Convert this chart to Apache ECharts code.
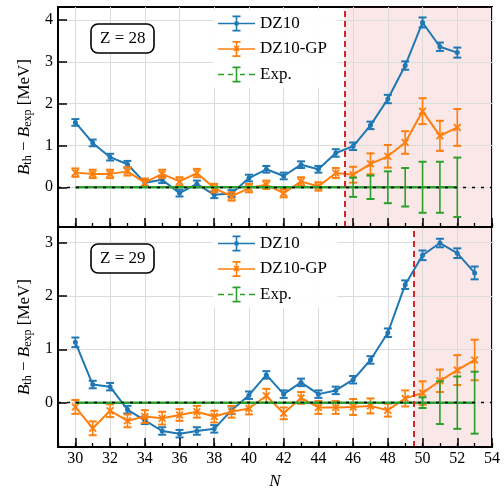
<!DOCTYPE html>
<html>
<head>
<meta charset="utf-8">
<script src="https://cdn.jsdelivr.net/npm/echarts@6/dist/echarts.min.js"></script>
<style>
  html, body { margin: 0; padding: 0; background: #fff; }
  #chart { width: 504px; height: 493px; }
</style>
</head>
<body>
<div id="chart"></div>
<script>
// ---- data: binding-energy residuals B_th - B_exp (MeV) along the Ni (Z=28) and Cu (Z=29) chains ----
const nZ28 = [30,31,32,33,34,35,36,37,38,39,40,41,42,43,44,45,46,47,48,49,50,51,52];
const dz10Z28 = [1.55,1.06,0.72,0.55,0.11,0.18,-0.14,0.08,-0.18,-0.15,0.22,0.43,0.27,0.54,0.43,0.82,0.98,1.48,2.11,2.91,3.94,3.36,3.22];
const dz10ErrZ28 = [0.08,0.08,0.08,0.08,0.08,0.08,0.08,0.08,0.08,0.08,0.08,0.08,0.08,0.08,0.08,0.09,0.09,0.09,0.10,0.10,0.12,0.10,0.12];
const gpZ28 = [0.35,0.32,0.32,0.38,0.11,0.32,0.14,0.34,-0.02,-0.22,-0.02,0.06,-0.14,0.14,0.02,0.34,0.30,0.56,0.74,1.07,1.82,1.23,1.43];
const gpErrZ28 = [0.10,0.10,0.10,0.10,0.10,0.10,0.10,0.10,0.10,0.10,0.10,0.10,0.10,0.10,0.10,0.12,0.19,0.25,0.27,0.27,0.31,0.36,0.44];
const expErrZ28 = [0,0,0,0,0,0,0,0,0,0,0,0,0,0,0,0,0.23,0.28,0.38,0.46,0.61,0.61,0.71];

const nZ29 = [30,31,32,33,34,35,36,37,38,39,40,41,42,43,44,45,46,47,48,49,50,51,52,53];
const dz10Z29 = [1.13,0.34,0.30,-0.13,-0.33,-0.53,-0.58,-0.53,-0.49,-0.14,0.14,0.52,0.16,0.38,0.16,0.23,0.43,0.80,1.31,2.21,2.76,2.99,2.80,2.43];
const dz10ErrZ29 = [0.09,0.07,0.07,0.07,0.07,0.07,0.07,0.07,0.07,0.07,0.07,0.07,0.07,0.07,0.07,0.07,0.07,0.07,0.08,0.08,0.09,0.08,0.09,0.12];
const gpZ29 = [-0.08,-0.48,-0.15,-0.34,-0.26,-0.29,-0.23,-0.17,-0.26,-0.17,-0.11,0.13,-0.20,0.09,-0.09,-0.09,-0.08,-0.06,-0.14,0.08,0.18,0.41,0.61,0.80];
const gpErrZ29 = [0.13,0.13,0.12,0.12,0.12,0.12,0.11,0.11,0.11,0.11,0.11,0.13,0.11,0.11,0.12,0.12,0.15,0.14,0.12,0.15,0.22,0.21,0.28,0.38];
const expErrZ29 = [0,0,0,0,0,0,0,0,0,0,0,0,0,0,0,0,0,0,0,0,0.10,0.40,0.49,0.58];

const xTicks = [30,32,34,36,38,40,42,44,46,48,50,52,54];
const yTicksZ28 = [0,1,2,3,4];
const yTicksZ29 = [0,1,2,3];
const zLabels = ['28', '29'];
const seriesNames = ['DZ10', 'DZ10-GP', 'Exp.'];
// first neutron number beyond the training region (dashed boundary)
const boundaryZ28 = 45.5;
const boundaryZ29 = 49.5;

// ---- styling ----
const FONT = 'Liberation Serif';
const BLUE = '#1f77b4', ORANGE = '#ff7f0e', GREEN = '#2ca02c', RED = '#d62728';
const X_MIN = 29, X_MAX = 54;

const panels = [
  { z: zLabels[0], n: nZ28, dz: dz10Z28, dzErr: dz10ErrZ28, gp: gpZ28, gpErr: gpErrZ28, expErr: expErrZ28,
    yTicks: yTicksZ28, yMin: -0.95, yMax: 4.31, cut: boundaryZ28, top: 7 },
  { z: zLabels[1], n: nZ29, dz: dz10Z29, dzErr: dz10ErrZ29, gp: gpZ29, gpErr: gpErrZ29, expErr: expErrZ29,
    yTicks: yTicksZ29, yMin: -0.83, yMax: 3.29, cut: boundaryZ29, top: 227 }
];

const xMarker = 'path://M0,1.6L1.6,0L5,3.4L8.4,0L10,1.6L6.6,5L10,8.4L8.4,10L5,6.6L1.6,10L0,8.4L3.4,5Z';

// legend glyphs: line + error bar (37 x 16 box)
const barPart = 'M17.7,0h1.6v16h-1.6z M14.5,0h8v1.8h-8z M14.5,14.2h8v1.8h-8z';
const iconBlue = 'path://M0,7.2h37v1.6h-37z ' + barPart + ' M16.5,6h4v4h-4z';
const iconOrange = 'path://M0,7.2h37v1.6h-37z ' + barPart + ' M15.5,5.6L16.6,4.5L18.5,6.4L20.4,4.5L21.5,5.6L19.6,7.5L21.5,9.4L20.4,10.5L18.5,8.6L16.6,10.5L15.5,9.4L17.4,7.5Z';
const iconGreen = 'path://M0,7.2h6v1.6h-6z M10,7.2h5v1.6h-5z M22,7.2h5v1.6h-5z M31,7.2h6v1.6h-6z ' + barPart;

function renderErrorBar(params, api) {
  const x = api.value(0), y = api.value(1), e = api.value(2);
  const hi = api.coord([x, y + e]);
  const lo = api.coord([x, y - e]);
  const hw = 4;
  const color = api.visual('color');
  const s = { stroke: color, lineWidth: 1.6, fill: null };
  const c = { stroke: color, lineWidth: 2, fill: null };
  return {
    type: 'group',
    children: [
      { type: 'line', shape: { x1: hi[0], y1: hi[1], x2: lo[0], y2: lo[1] }, style: s },
      { type: 'line', shape: { x1: hi[0] - hw, y1: hi[1], x2: hi[0] + hw, y2: hi[1] }, style: c },
      { type: 'line', shape: { x1: lo[0] - hw, y1: lo[1], x2: lo[0] + hw, y2: lo[1] }, style: c }
    ]
  };
}

const grids = [], xAxes = [], yAxes = [], series = [], legends = [], titles = [];

panels.forEach((p, g) => {
  const isBottom = g === panels.length - 1;
  const xi = 2 * g;
  grids.push({ left: 58, width: 434, top: p.top, height: 220, show: true, z: 0,
    borderColor: '#000', borderWidth: 2, backgroundColor: 'transparent' });

  // minor ticks every 1, labels every 2
  xAxes.push({
    type: 'value', gridIndex: g, min: X_MIN, max: X_MAX, interval: 1, position: 'bottom', z: 12,
    axisLine: { show: true, onZero: false, lineStyle: { color: '#000', width: 2 } },
    axisTick: { show: true, inside: true, length: 4, lineStyle: { color: '#000', width: 1.3 } },
    axisLabel: isBottom
      ? { show: true, customValues: xTicks, fontFamily: FONT, fontSize: 16, color: '#000', margin: 4 }
      : { show: false },
    splitLine: { show: false },
    name: isBottom ? 'N' : '', nameLocation: 'middle', nameGap: 26,
    nameTextStyle: { fontFamily: FONT, fontSize: 17, fontStyle: 'italic', color: '#000' }
  });
  // major ticks
  xAxes.push({
    type: 'value', gridIndex: g, min: X_MIN, max: X_MAX, position: 'bottom', z: 12,
    axisLine: { show: false, onZero: false },
    axisTick: { show: true, inside: true, length: 9, customValues: xTicks, lineStyle: { color: '#000', width: 1.5 } },
    axisLabel: { show: false },
    splitLine: { show: false }
  });

  yAxes.push({
    type: 'value', gridIndex: g, min: p.yMin, max: p.yMax, z: 12,
    axisLine: { show: true, onZero: false, lineStyle: { color: '#000', width: 2 } },
    axisTick: { show: true, inside: true, length: 9, customValues: p.yTicks, lineStyle: { color: '#000', width: 1.5 } },
    axisLabel: { show: true, customValues: p.yTicks, fontFamily: FONT, fontSize: 16, color: '#000', margin: 5 },
    splitLine: { show: false },
    name: '{b|B}{s|th}{n| − }{b|B}{s|exp}{n| [MeV]}',
    nameLocation: 'middle', nameRotate: 90, nameGap: 12,
    nameTextStyle: {
      color: '#000',
      rich: {
        b: { fontFamily: FONT, fontSize: 17, fontStyle: 'italic', color: '#000', lineHeight: 20, verticalAlign: 'middle' },
        n: { fontFamily: FONT, fontSize: 17, color: '#000', lineHeight: 20, verticalAlign: 'middle' },
        s: { fontFamily: FONT, fontSize: 12, color: '#000', lineHeight: 12, verticalAlign: 'bottom' }
      }
    }
  });

  const onAxes = { xAxisIndex: xi, yAxisIndex: g };

  // background: shaded extrapolation region and grid lines
  series.push(Object.assign({
    type: 'line', data: [[X_MIN, p.yMin]], symbol: 'none', lineStyle: { opacity: 0 },
    silent: true, z: 1, animation: false,
    markArea: { silent: true, z: 0.5, itemStyle: { color: 'rgba(214,39,40,0.11)' },
      data: [[{ xAxis: p.cut }, { xAxis: X_MAX }]] },
    markLine: { silent: true, z: 1, symbol: ['none', 'none'], label: { show: false },
      lineStyle: { color: '#dcdcdc', width: 1, type: 'solid' },
      data: xTicks.map(v => ({ xAxis: v })).concat(p.yTicks.map(v => ({ yAxis: v }))) }
  }, onAxes));

  // DZ10
  series.push(Object.assign({
    type: 'custom', name: 'DZ10 err', renderItem: renderErrorBar, z: 3, silent: true,
    itemStyle: { color: BLUE }, encode: { x: 0, y: 1 },
    data: p.n.map((v, i) => [v, p.dz[i], p.dzErr[i]])
  }, onAxes));
  series.push(Object.assign({
    type: 'line', name: seriesNames[0], z: 3, silent: true,
    data: p.n.map((v, i) => [v, p.dz[i]]),
    symbol: 'circle', symbolSize: 5, itemStyle: { color: BLUE },
    lineStyle: { color: BLUE, width: 2 }
  }, onAxes));

  // DZ10-GP
  series.push(Object.assign({
    type: 'custom', name: 'DZ10-GP err', renderItem: renderErrorBar, z: 4, silent: true,
    itemStyle: { color: ORANGE }, encode: { x: 0, y: 1 },
    data: p.n.map((v, i) => [v, p.gp[i], p.gpErr[i]])
  }, onAxes));
  series.push(Object.assign({
    type: 'line', name: seriesNames[1], z: 4, silent: true,
    data: p.n.map((v, i) => [v, p.gp[i]]),
    symbol: xMarker, symbolSize: 8, itemStyle: { color: ORANGE },
    lineStyle: { color: ORANGE, width: 2 }
  }, onAxes));

  // experimental reference (zero) with its uncertainties
  series.push(Object.assign({
    type: 'line', name: seriesNames[2], z: 5, silent: true,
    data: p.n.map(v => [v, 0]), symbol: 'none',
    itemStyle: { color: GREEN }, lineStyle: { color: GREEN, width: 2.4 }
  }, onAxes));
  series.push(Object.assign({
    type: 'custom', name: 'Exp. err', renderItem: renderErrorBar, z: 5, silent: true,
    itemStyle: { color: GREEN }, encode: { x: 0, y: 1 },
    data: p.n.map((v, i) => [v, 0, p.expErr[i]]).filter(d => d[2] > 0)
  }, onAxes));

  // zero reference and region boundary
  series.push(Object.assign({
    type: 'line', data: [[X_MIN, p.yMin]], symbol: 'none', lineStyle: { opacity: 0 },
    silent: true, z: 8,
    markLine: { silent: true, z: 8, symbol: ['none', 'none'], label: { show: false },
      data: [
        { yAxis: 0, lineStyle: { color: '#000', width: 1.3, type: [3, 6] } },
        { xAxis: p.cut, lineStyle: { color: RED, width: 2, type: [6, 4] } }
      ] }
  }, onAxes));

  legends.push({
    orient: 'vertical', left: 213, top: p.top + 3, padding: [5, 10, 5, 5], z: 20,
    backgroundColor: 'rgba(255,255,255,0.92)', selectedMode: false,
    itemWidth: 37, itemHeight: 16, itemGap: 8.5,
    textStyle: { fontFamily: FONT, fontSize: 17, color: '#000', lineHeight: 16 },
    data: [
      { name: seriesNames[0], icon: iconBlue },
      { name: seriesNames[1], icon: iconOrange },
      { name: seriesNames[2], icon: iconGreen }
    ]
  });

  titles.push({
    text: 'Z = ' + p.z, left: 91, top: p.top + 17, z: 20,
    backgroundColor: '#fff', borderColor: '#000', borderWidth: 1.6, borderRadius: 7,
    padding: [6, 9, 6, 9],
    textStyle: { fontFamily: FONT, fontSize: 17, fontWeight: 'normal', color: '#000' }
  });
});

const chart = echarts.init(document.getElementById('chart'), null, { renderer: 'canvas' });
chart.setOption({
  animation: false,
  backgroundColor: '#fff',
  title: titles,
  legend: legends,
  grid: grids,
  xAxis: xAxes,
  yAxis: yAxes,
  series: series
});
</script>
</body>
</html>
